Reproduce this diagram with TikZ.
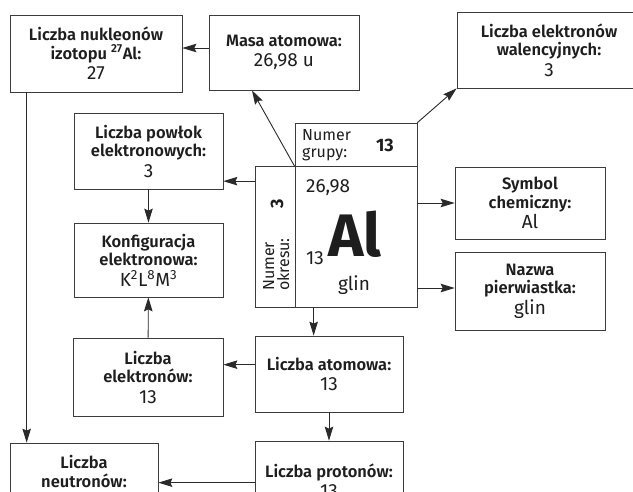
\documentclass[tikz,border=0pt]{standalone}
\usepackage{fontspec}
\setmainfont{Fira Sans}[BoldFont={Fira Sans SemiBold}]
\newfontfamily\symfont{Fira Sans Bold}
\usepackage{tikz}
\usetikzlibrary{arrows.meta,calc}
\definecolor{lnk}{HTML}{2A2A2A}
\definecolor{ramka}{HTML}{3C3C3C}
\definecolor{tekst}{HTML}{1E1E1E}
\newcommand{\wart}[1]{{\mdseries\fontsize{19}{22}\selectfont #1}}

\begin{document}
\begin{tikzpicture}[x=1pt, y=-1pt,
  box/.style={draw=ramka, line width=0.7pt, inner sep=0pt,
              align=center, text=tekst,
              font=\fontsize{16.5}{18.5}\selectfont\bfseries},
  txt/.style={inner sep=0pt, text=tekst, font=\fontsize{19}{22}\selectfont},
  arr/.style={draw=lnk, line width=0.9pt,
              -{Stealth[length=14pt, width=8.5pt, inset=2pt]}}
]
  \useasboundingbox (0,0) rectangle (633,491);
  \clip (0,0) rectangle (633,491);

  % upper row
  \node[box, minimum width=172, minimum height=77] (nukl) at (96,53.5)
    {Liczba nukleonów\\izotopu \textsuperscript{27}Al:\\[2pt]\wart{27}};
  \node[box, minimum width=150, minimum height=75] (masa) at (284,52.5)
    {Masa atomowa:\\[2pt]\wart{26,98 u}};
  \node[box, minimum width=184, minimum height=76] (walen) at (549,50)
    {Liczba elektronów\\walencyjnych:\\[2pt]\wart{3}};

  % element cell
  \node[draw=ramka, line width=0.7pt, minimum width=122, minimum height=141,
        inner sep=0pt] (cell) at (356,236.5) {};
  \node[draw=ramka, line width=0.7pt, minimum width=122, minimum height=43,
        inner sep=0pt] (grupa) at (356,144.5) {};
  \node[draw=ramka, line width=0.7pt, minimum width=40, minimum height=141,
        inner sep=0pt] (okres) at (275,237) {};
  \node[inner sep=0pt, anchor=west, align=left, text=tekst,
        font=\fontsize{16}{17.5}\selectfont] (grupaT) at (302,145) {Numer\\grupy:};
  \node[txt, font=\fontsize{18}{20}\selectfont\symfont] (grupaN) at (385,145) {13};
  \node[inner sep=0pt, rotate=90, anchor=north west, align=left, text=tekst,
        font=\fontsize{16}{15}\selectfont] (okresT) at (263,291) {Numer\\okresu:};
  \node[txt, rotate=90, font=\fontsize{18}{20}\selectfont\symfont] (okresN) at (277,204) {3};
  \node[txt, anchor=west] (masaC) at (306,188) {26,98};
  \node[txt, font=\fontsize{60}{62}\selectfont\symfont] (symC) at (355,234) {Al};
  \node[txt, anchor=west] (zC) at (306,258) {13};
  \node[txt] (nazwaC) at (354,285) {glin};

  % left column
  \node[box, minimum width=149, minimum height=76] (powlok) at (148.5,151)
    {Liczba powłok\\elektronowych:\\[2pt]\wart{3}};
  \node[box, minimum width=149, minimum height=74] (konfig) at (148.5,260)
    {Konfiguracja\\elektronowa:\\[2pt]\wart{K\textsuperscript{2}L\textsuperscript{8}M\textsuperscript{3}}};
  \node[box, minimum width=150, minimum height=78] (elektr) at (148,377)
    {Liczba\\elektronów:\\[2pt]\wart{13}};

  % right column
  \node[box, minimum width=150, minimum height=72] (symbol) at (530,203)
    {Symbol\\chemiczny:\\[2pt]\wart{Al}};
  \node[box, minimum width=150, minimum height=78] (nazwa) at (530,291)
    {Nazwa\\pierwiastka:\\[2pt]\wart{glin}};

  % lower part
  \node[box, minimum width=148, minimum height=76] (atom) at (329,374)
    {Liczba atomowa:\\[2pt]\wart{13}};
  \node[box, minimum width=148, minimum height=80] (proton) at (329,481)
    {Liczba protonów:\\[2pt]\wart{13}};
  \node[box, minimum width=148, minimum height=57] (neutron) at (84,471.5)
    {Liczba\\neutronów:};

  \draw[arr] ([yshift=4.5]masa.west) -- ([yshift=4.5]masa.west -| nukl.east);
  \draw[arr] (grupa.south west) -- ([xshift=-32]masa.south);
  \draw[arr] (grupa.north east) -- (walen.south west);
  \draw[arr] ([yshift=-15]okres.north west) -- ([yshift=-15]okres.north west -| powlok.east);
  \draw[arr] (powlok) -- (konfig);
  \draw[arr] (elektr) -- (konfig);
  \draw[arr] (cell.east |- symbol) -- (symbol.west);
  \draw[arr] ([yshift=3]cell.east |- nazwa) -- ([yshift=3]nazwa.west);
  \draw[arr] ([xshift=19]cell.south west) -- ([xshift=19]cell.south west |- atom.north);
  \draw[arr] ([yshift=-29]atom.north west) -- ([yshift=-29]atom.north west -| elektr.east);
  \draw[arr] (atom) -- (proton);
  \draw[arr] ([xshift=17]nukl.south west) -- ([xshift=17]nukl.south west |- neutron.north);
  \draw[arr] ([yshift=-42]proton.north west) -- ([yshift=-42]proton.north west -| neutron.east);

\end{tikzpicture}
\end{document}
